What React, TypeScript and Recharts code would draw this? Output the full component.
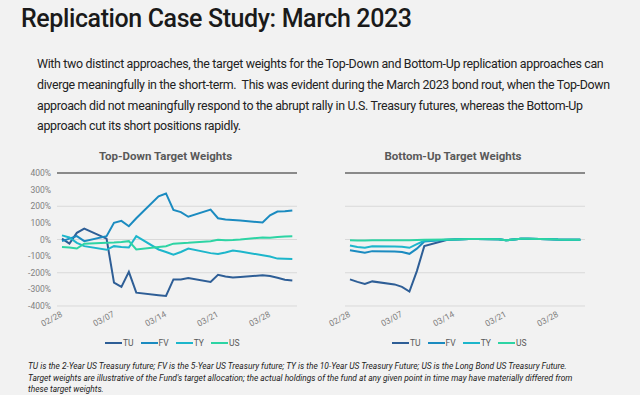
import { LineChart, Line, XAxis, YAxis, CartesianGrid } from 'recharts'

const dates = [
  '02/28', '03/01', '03/02', '03/03', '03/06', '03/07', '03/08', '03/09', '03/10', '03/13', '03/14', '03/15',
  '03/16', '03/17', '03/20', '03/21', '03/22', '03/23', '03/24', '03/27', '03/28', '03/29', '03/30', '03/31',
]
const tickLabels = ['02/28', '03/07', '03/14', '03/21', '03/28']
const yTicks = [-400, -300, -200, -100, 0, 100, 200, 300, 400]

// Top-Down target weights, %
const tdTU = [5, -25, 40, 65, 5, -260, -285, -195, -320, -335, -340, -240, -240, -232, -255, -212, -222, -228, -225, -215, -220, -230, -242, -246]
const tdFV = [-10, 5, 20, -10, 20, 100, 112, 80, 128, 260, 277, 178, 165, 137, 180, 128, 120, 118, 115, 102, 145, 168, 170, 175]
const tdTY = [25, 12, -20, -40, -62, -40, -45, -48, 20, -60, -75, -92, -75, -55, -82, -87, -78, -66, -72, -95, -102, -115, -116, -117]
const tdUS = [-45, -48, -54, -25, -20, -18, -15, -10, -60, -45, -40, -25, -22, -20, -10, -2, -5, -3, 0, 12, 10, 15, 18, 20]

// Bottom-Up target weights, %
const buTU = [-240, -255, -267, -252, -270, -285, -313, -190, -40, -3, 0, 2, 3, 3, 1, -5, 0, 4, 5, 2, 0, -1, -2, -1]
const buFV = [-65, -72, -80, -70, -72, -75, -86, -55, -12, -2, 0, 2, 3, 3, 1, -5, 0, 4, 5, 2, 0, -1, -2, -1]
const buTY = [-36, -45, -50, -40, -42, -43, -50, -28, -8, -1, 0, 2, 3, 3, 1, -5, 0, 4, 5, 2, 0, -1, -2, -1]
const buUS = [-5, -6, -6, -5, -5, -5, -5, -3, -2, 0, 0, 2, 3, 3, 1, -5, 0, 4, 5, 2, 0, -1, -2, -1]

const SERIES = [
  { key: 'TU', color: '#2e5e96' },
  { key: 'FV', color: '#1b8bc0' },
  { key: 'TY', color: '#1db6cb' },
  { key: 'US', color: '#2dd4a4' },
]

const dayOf = (s: string) => {
  const [m, d] = s.split('/').map(Number)
  return Math.round((Date.UTC(2023, m - 1, d) - Date.UTC(2023, 1, 28)) / 86400000)
}

const build = (tu: number[], fv: number[], ty: number[], us: number[]) =>
  dates.map((dt, i) => ({ day: dayOf(dt), TU: tu[i], FV: fv[i], TY: ty[i], US: us[i] }))

const topDown = build(tdTU, tdFV, tdTY, tdUS)
const bottomUp = build(buTU, buFV, buTY, buUS)
const tickDays = tickLabels.map(dayOf)
const labelByDay: Record<number, string> = Object.fromEntries(tickLabels.map((l) => [dayOf(l), l]))
const zeroIdx = yTicks.indexOf(0)

const FONT = 'Roboto, "Open Sans", sans-serif'
const GRAY = '#7f7f7f'

function DateTick({ x, y, payload }: { x?: number; y?: number; payload?: { value: number } }) {
  const tx = (x ?? 0) + 1
  const ty = (y ?? 0) + 8
  return (
    <text x={tx} y={ty} transform={`rotate(-28 ${tx} ${ty})`} textAnchor="end" fontSize={8.5} fill={GRAY} fontFamily={FONT}>
      {labelByDay[payload?.value ?? 0]}
    </text>
  )
}

// grid line; the 0% line is drawn darker and thicker, under the series
function GridLine(p: { x1?: number; x2?: number; y1?: number; y2?: number; index?: number }) {
  const zero = p.index === zeroIdx
  return (
    <line
      key={`g-${p.index}`}
      x1={p.x1}
      x2={p.x2}
      y1={p.y1}
      y2={p.y2}
      stroke={zero ? '#8a8a8a' : '#d9d9d9'}
      strokeWidth={zero ? 2 : 1}
    />
  )
}

function WeightsChart({ data, showY }: { data: typeof topDown; showY: boolean }) {
  return (
    <LineChart
      width={showY ? 310 : 300}
      height={190}
      data={data}
      margin={{ top: 13, right: showY ? 13 : 15, bottom: 14, left: showY ? 0 : 45 }}
    >
      <CartesianGrid horizontal={(p: any) => <GridLine {...p} />} vertical={false} />
      <XAxis
        dataKey="day"
        type="number"
        domain={[-0.67, 31.63]}
        ticks={tickDays}
        interval={0}
        axisLine={false}
        tickLine={false}
        tickSize={0}
        height={30}
        tick={<DateTick />}
      />
      <YAxis
        type="number"
        domain={[-400, 400]}
        ticks={yTicks}
        hide={!showY}
        width={57}
        axisLine={false}
        tickLine={false}
        tickSize={4}
        tickMargin={2}
        tickFormatter={(v: number) => `${v}%`}
        tick={{ fontSize: 8.5, fill: GRAY, fontFamily: FONT }}
      />
      {SERIES.map((s) => (
        <Line
          key={s.key}
          dataKey={s.key}
          stroke={s.color}
          strokeWidth={2}
          dot={false}
          isAnimationActive={false}
        />
      ))}
    </LineChart>
  )
}

function Legend({ left }: { left: number }) {
  return (
    <div style={{ position: 'absolute', left, top: 338, display: 'flex', gap: 7, fontFamily: FONT, fontSize: 8.5, color: '#595959' }}>
      {SERIES.map((s) => (
        <div key={s.key} style={{ display: 'flex', alignItems: 'center' }}>
          <span style={{ display: 'inline-block', width: 17, height: 2, background: s.color, marginRight: 1 }} />
          <span>{s.key}</span>
        </div>
      ))}
    </div>
  )
}

const paragraph = [
  'With two distinct approaches, the target weights for the Top-Down and Bottom-Up replication approaches can',
  'diverge meaningfully in the short-term.  This was evident during the March 2023 bond rout, when the Top-Down',
  'approach did not meaningfully respond to the abrupt rally in U.S. Treasury futures, whereas the Bottom-Up',
  'approach cut its short positions rapidly.',
]

const footnote = [
  'TU is the 2-Year US Treasury future; FV is the 5-Year US Treasury future; TY is the 10-Year US Treasury Future; US is the Long Bond US Treasury Future.',
  "Target weights are illustrative of the Fund's target allocation; the actual holdings of the fund at any given point in time may have materially differed from",
  'these target weights.',
]

export default function App() {
  return (
    <div style={{ position: 'absolute', left: 0, top: 0, width: 640, height: 395, background: '#f2f2f2', overflow: 'hidden', fontFamily: FONT }}>
      <div style={{ position: 'absolute', left: 21, top: 4, fontSize: 25, fontWeight: 500, color: '#1a1a1a', whiteSpace: 'nowrap', letterSpacing: -0.4 }}>
        Replication Case Study: March 2023
      </div>
      <div style={{ position: 'absolute', left: 37, top: 54, fontSize: 12.4, lineHeight: '20.8px', color: '#222', whiteSpace: 'pre', letterSpacing: -0.32 }}>
        {paragraph.map((l) => (
          <div key={l}>{l}</div>
        ))}
      </div>

      <div style={{ position: 'absolute', left: 0, top: 149, width: 331, textAlign: 'center', fontSize: 11.5, fontWeight: 700, color: '#595959' }}>
        Top-Down Target Weights
      </div>
      <div style={{ position: 'absolute', left: 330, top: 149, width: 246, textAlign: 'center', fontSize: 11.5, fontWeight: 700, color: '#595959' }}>
        Bottom-Up Target Weights
      </div>

      <div style={{ position: 'absolute', left: 0, top: 160 }}>
        <WeightsChart data={topDown} showY />
      </div>
      <div style={{ position: 'absolute', left: 300, top: 160 }}>
        <WeightsChart data={bottomUp} showY={false} />
      </div>

      <Legend left={105} />
      <Legend left={392} />

      <div style={{ position: 'absolute', left: 28, top: 361, fontSize: 8.4, lineHeight: '11.5px', fontStyle: 'italic', color: '#222', whiteSpace: 'pre' }}>
        {footnote.map((l) => (
          <div key={l}>{l}</div>
        ))}
      </div>
    </div>
  )
}
